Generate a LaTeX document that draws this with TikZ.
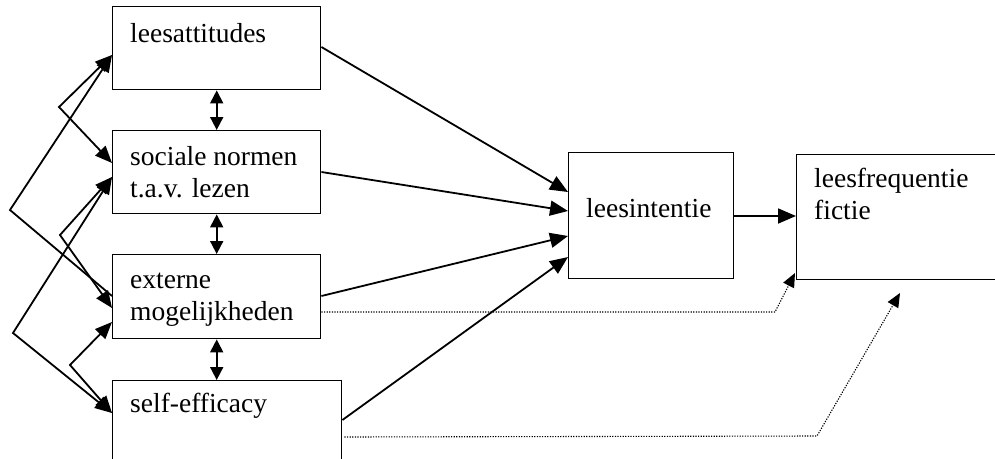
\documentclass[tikz,border=0pt]{standalone}
\usepackage{fontspec}
\setmainfont{Liberation Serif}
\usetikzlibrary{arrows.meta,calc}
\begin{document}
\begin{tikzpicture}[x=1pt,y=-1pt,
  box/.style={draw,line width=1.4pt,inner sep=0pt,anchor=north west},
  lbl/.style={anchor=base west,align=left,inner sep=0pt,font=\fontsize{27.5}{32}\selectfont},
  conn/.style={line width=1.8pt,-{Triangle[length=18pt,width=15pt]}},
  dconn/.style={line width=1.8pt,{Triangle[length=17pt,width=14pt]}-{Triangle[length=17pt,width=14pt]}},
  vconn/.style={line width=1.8pt,{Triangle[length=13pt,width=13pt]}-{Triangle[length=13pt,width=13pt]}},
  dotconn/.style={line width=1.1pt,dash pattern=on 1.2pt off 1.4pt,-{Triangle[length=14pt,width=12pt]}}]
\useasboundingbox (0,0) rectangle (995,458);
\clip (0,0) rectangle (995,458);
\fill[white] (0,0) rectangle (995,458);
% boxes
\node[box,minimum width=208pt,minimum height=83pt] (b1) at (112,6) {};
\node[box,minimum width=208pt,minimum height=83pt] (b2) at (112,130) {};
\node[box,minimum width=208pt,minimum height=84pt] (b3) at (112,254) {};
\node[box,minimum width=229pt,minimum height=120pt] (b4) at (112,380) {};
\node[box,minimum width=165pt,minimum height=126pt] (b5) at (568,152) {};
\node[box,minimum width=220pt,minimum height=125pt] (b6) at (796,154) {};
% texts (base = last line)
\node[lbl] (t1) at (130,42) {leesattitudes};
\node[lbl] (t2) at (130,197) {sociale normen\\t.a.v. lezen};
\node[lbl] (t3) at (130,320) {externe\\mogelijkheden};
\node[lbl] (t4) at (130,412) {self-efficacy};
\node[lbl] (t5) at (586,217) {leesintentie};
\node[lbl] (t6) at (814,219) {leesfrequentie\\fictie};
% bends
\coordinate (vA) at (59,107);
\coordinate (vB) at (10,210);
\coordinate (vC) at (60,235);
\coordinate (vD) at (13,333);
\coordinate (vE) at (70,365);
\coordinate (dA) at (775,312);
\coordinate (dB) at (817,436);
\coordinate (tA) at (795,273);
\coordinate (tB) at (900,293);
% left side correlations
\draw[dconn] (b1.west |- {(0,55)}) -- (vA) -- (b2.west |- {(0,163)});
\draw[line width=1.8pt,{Triangle[length=17pt,width=14pt]}-] (b1.west |- {(0,55)}) -- (vB) -- (b3.west |- {(0,296)});
\draw[dconn] (b2.west |- {(0,177)}) -- (vC) -- (b3.west |- {(0,308)});
\draw[dconn] (b2.west |- {(0,177)}) -- (vD) -- (b4.west |- {(0,413)});
\draw[dconn] (b3.west |- {(0,322)}) -- (vE) -- (b4.west |- {(0,413)});
% vertical double arrows
\draw[vconn] (b1.south) -- (b2.north);
\draw[vconn] (b2.south) -- (b3.north);
\draw[vconn] (b3.south) -- (b3.south |- b4.north);
% to leesintentie
\draw[conn] (b1.east |- {(0,47)}) -- (b5.west |- {(0,192)});
\draw[conn] (b2.east |- {(0,172)}) -- (b5.west |- {(0,211)});
\draw[conn] (b3.east |- {(0,296)}) -- (b5.west |- {(0,236)});
\draw[conn] (b4.east |- {(0,420)}) -- (b5.west |- {(0,257)});
\draw[conn] (b5.east |- {(0,216)}) -- (b6.west |- {(0,216)});
% dotted
\draw[dotconn] (b3.east |- {(0,312)}) -- (dA) -- (tA);
\draw[dotconn] ($(b4.east |- {(0,437)})+(2,0)$) -- (dB) -- (tB);
\end{tikzpicture}
\end{document}
